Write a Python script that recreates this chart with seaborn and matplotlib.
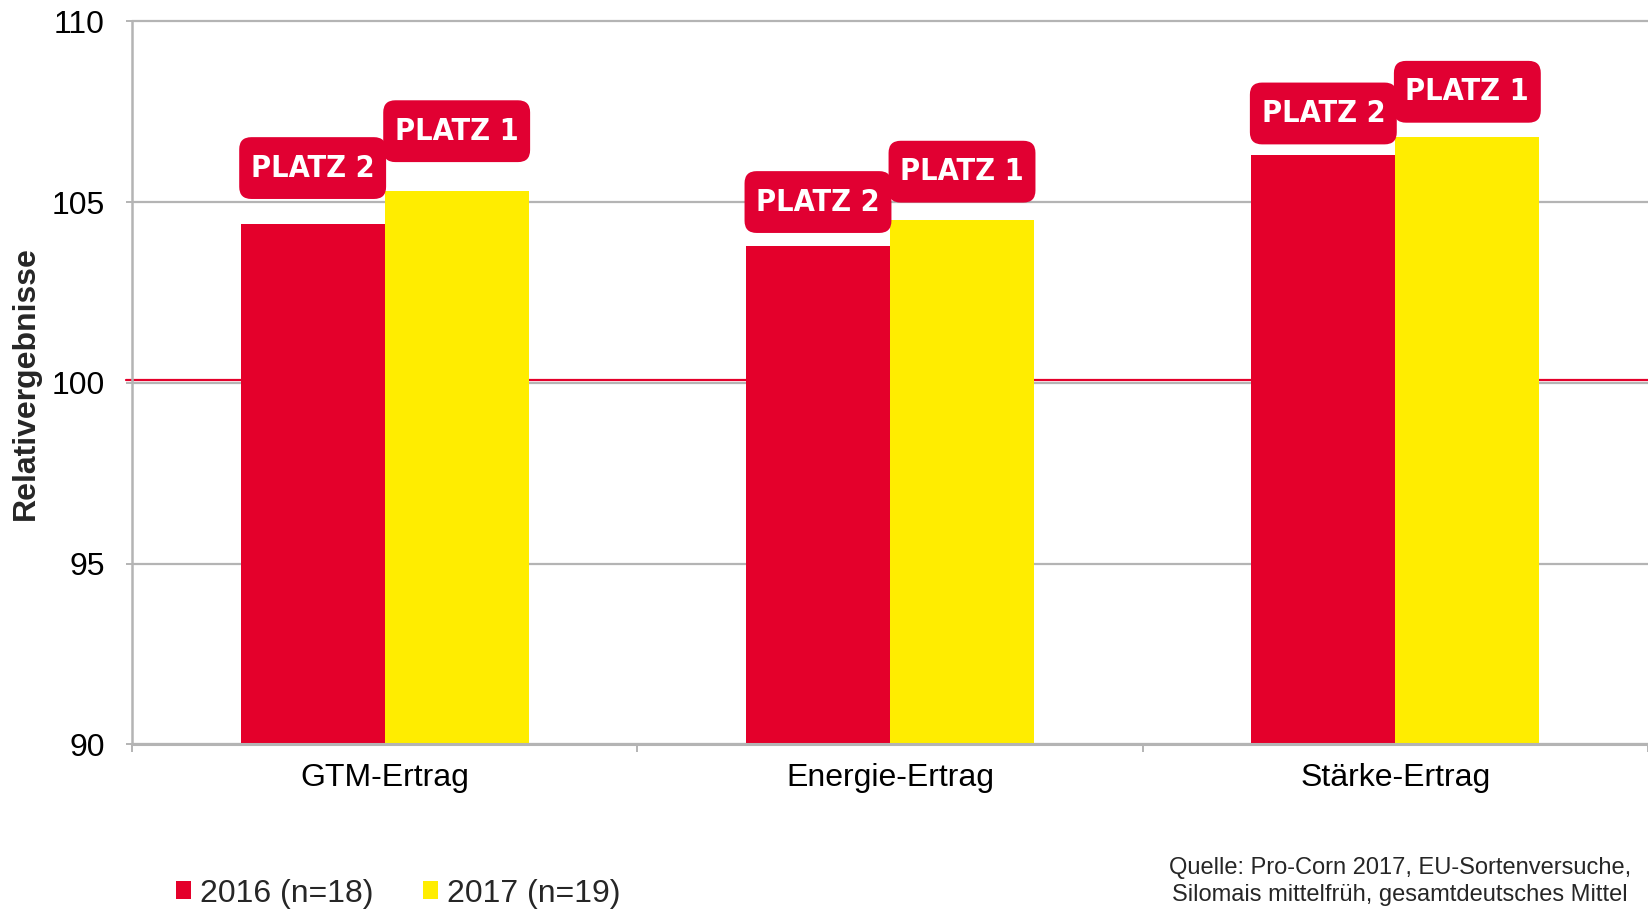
import matplotlib
matplotlib.use("Agg")
import numpy as np
import pandas as pd
import seaborn as sns
import matplotlib.pyplot as plt
from matplotlib import font_manager
from matplotlib.font_manager import FontProperties
from matplotlib.patches import FancyBboxPatch, Patch

# ----------------------------
# Data
# ----------------------------
categories = ["GTM-Ertrag", "Energie-Ertrag", "Stärke-Ertrag"]
series = ["2016 (n=18)", "2017 (n=19)"]
values_2016 = [104.4, 103.8, 106.3]
values_2017 = [105.3, 104.5, 106.8]
badges = ["PLATZ 2", "PLATZ 1"]          # one badge text per series
y_ticks = [90, 95, 100, 105, 110]
reference_level = 100
source_lines = ["Quelle: Pro-Corn 2017, EU-Sortenversuche,",
                "Silomais mittelfrüh, gesamtdeutsches Mittel"]

# badge offsets above bar tops (layout only)
badge_gap = [[0.69, 0.81], [0.35, 0.49], [0.30, 0.40]]
badge_height = 1.71

RED = "#e4002b"
BADGE_RED = "#e10032"
YELLOW = "#ffed00"
GREY = "#b4b4b4"

sns.set_theme(style="white")
plt.rcParams["font.family"] = ["Liberation Sans", "DejaVu Sans"]


def _badge_font():
    """Look for a bold condensed/narrow face; fall back to Roboto bold."""
    cands = []
    for f in font_manager.fontManager.ttflist:
        narrow = ("narrow" in f.name.lower() or "condensed" in f.name.lower()
                  or f.stretch in ("condensed", "semi-condensed", "extra-condensed"))
        w = f.weight if isinstance(f.weight, int) else 400
        if narrow and w >= 600 and "italic" not in f.style:
            cands.append(f)
    if cands:
        cands.sort(key=lambda f: (f.stretch != "condensed", abs((f.weight if isinstance(f.weight, int) else 700) - 700)))
        return FontProperties(fname=cands[0].fname, size=22)
    return FontProperties(family=["Roboto", "DejaVu Sans"], weight="bold", size=21)


badge_fp = _badge_font()

df = pd.DataFrame({
    "Kategorie": categories * 2,
    "Jahr": [series[0]] * 3 + [series[1]] * 3,
    "Wert": values_2016 + values_2017,
})

W, H = 1648, 910
fig = plt.figure(figsize=(W / 100, H / 100), dpi=100)
ax_l, ax_b, ax_w, ax_h = 132 / W, 0.1819, 1 - 132 / W, 0.7945
ax = fig.add_axes([ax_l, ax_b, ax_w, ax_h])

sns.barplot(data=df, x="Kategorie", y="Wert", hue="Jahr", order=categories,
            hue_order=series, palette={series[0]: RED, series[1]: YELLOW},
            width=0.57, saturation=1, linewidth=0, legend=False, ax=ax)

ax.set_xlim(-0.5, len(categories) - 0.5)
ax.set_ylim(90, 110)
ax.set_yticks(y_ticks)
ax.set_xlabel("")
ax.set_ylabel("")

# grid / spines
ax.set_axisbelow(True)
ax.yaxis.grid(True, color=GREY, lw=1.6)
ax.xaxis.grid(False)
for gl in ax.get_ygridlines():
    gl.set_clip_on(False)
for s in ["top", "right"]:
    ax.spines[s].set_visible(False)
ax.spines["left"].set_color(GREY)
ax.spines["left"].set_linewidth(1.8)
ax.spines["bottom"].set_color(GREY)
ax.spines["bottom"].set_linewidth(2.2)

ax.axhline(reference_level + 0.08, xmin=-0.004, color=RED, lw=1.6,
           zorder=0.9, clip_on=False)

ax.tick_params(axis="y", labelsize=23, length=4.5, width=1.4, color=GREY,
               pad=15, left=True)
ax.tick_params(axis="x", which="major", labelsize=23, length=0, pad=13)
ax.set_xticks(np.arange(-0.5, len(categories)), minor=True)
ax.tick_params(axis="x", which="minor", length=6, width=1.4, color=GREY,
               bottom=True, direction="out")
for lab in ax.get_xticklabels() + ax.get_yticklabels():
    lab.set_color("black")

# badges above the bars
fig.canvas.draw()
bbox = ax.get_window_extent()
aspect = (20 / bbox.height) / (len(categories) / bbox.width)
for i, cont in enumerate(ax.containers):
    for j, bar in enumerate(cont):
        xc = bar.get_x() + bar.get_width() / 2
        bw = bar.get_width() * 1.02
        y0 = bar.get_height() + badge_gap[j][i]
        patch = FancyBboxPatch((xc - bw / 2, y0), bw, badge_height,
                               boxstyle="round,pad=0,rounding_size=0.024",
                               mutation_aspect=aspect, fc=BADGE_RED, ec="none",
                               zorder=3, clip_on=False)
        ax.add_patch(patch)
        ax.text(xc, y0 + badge_height / 2, badges[i], ha="center", va="center",
                color="white", fontproperties=badge_fp, zorder=4)

fig.text(0.016, ax_b + ax_h / 2, "Relativergebnisse", rotation=90,
         fontsize=23, fontweight="bold", ha="center", va="center")

handles = [Patch(facecolor=RED, edgecolor="none"),
           Patch(facecolor=YELLOW, edgecolor="none")]
fig.legend(handles, series, loc="center left", bbox_to_anchor=(176 / W, 0.018),
           ncol=2, frameon=False, fontsize=23, handlelength=0.47,
           handleheight=0.47, handletextpad=0.28, columnspacing=1.56,
           borderpad=0, borderaxespad=0)

fig.text(0.8495, 0.0465, source_lines[0], ha="center", va="center", fontsize=17)
fig.text(0.8495, 0.0165, source_lines[1], ha="center", va="center", fontsize=17)

fig.savefig("out.png", dpi=100)
